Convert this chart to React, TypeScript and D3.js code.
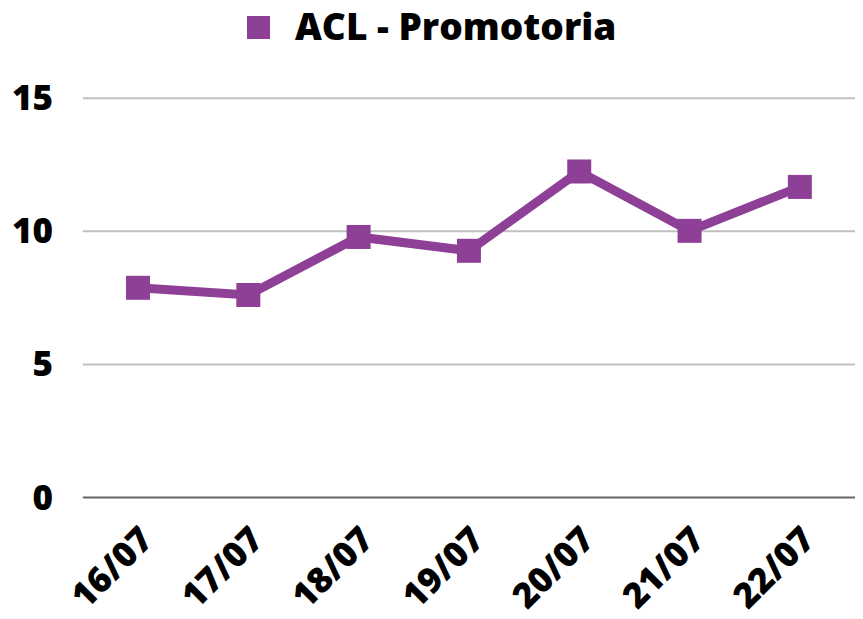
import React from "react";
import * as d3 from "d3";

const categories = ["16/07", "17/07", "18/07", "19/07", "20/07", "21/07", "22/07"];
const values = [7.88, 7.61, 9.79, 9.27, 12.25, 10.02, 11.67];
const yTicks = [0, 5, 10, 15];
const seriesName = "ACL - Promotoria";

const W = 863;
const H = 619;
const COLOR = "#8e3f96";
const FONT = "'Open Sans', sans-serif";

export default function App() {
  const x = d3.scaleBand<string>().domain(categories).range([82.85, 855]).padding(0);
  const y = d3.scaleLinear().domain([0, 15]).range([497.5, 98.3]);
  const cx = (c: string) => (x(c) as number) + x.bandwidth() / 2;
  const line = d3
    .line<number>()
    .x((_, i) => cx(categories[i]))
    .y((d) => y(d));
  const ms = 24;
  return (
    <div style={{ position: "fixed", left: 0, top: 0 }}>
      <svg width={W} height={H} style={{ display: "block", background: "#fff" }}>
        <rect width={W} height={H} fill="#fff" />
        {yTicks.map((t) => (
          <g key={t}>
            <line
              x1={82.85}
              x2={855}
              y1={y(t)}
              y2={y(t)}
              stroke={t === 0 ? "#666666" : "#c0c0c0"}
              strokeWidth={2}
            />
            <text
              x={53}
              y={y(t) + 12}
              textAnchor="end"
              fontFamily={FONT}
              fontWeight={800}
              fontSize={35}
              fill="#000"
            >
              {t}
            </text>
          </g>
        ))}
        {categories.map((c) => (
          <text
            key={c}
            transform={`translate(${cx(c) + 17},${y(0) + 44}) rotate(-45)`}
            textAnchor="end"
            fontFamily={FONT}
            fontWeight={800}
            fontSize={35}
            fill="#000"
          >
            {c}
          </text>
        ))}
        <path d={line(values) || ""} fill="none" stroke={COLOR} strokeWidth={9} strokeLinejoin="miter" />
        {values.map((v, i) => (
          <rect
            key={i}
            x={cx(categories[i]) - ms / 2}
            y={y(v) - ms / 2}
            width={ms}
            height={ms}
            fill={COLOR}
          />
        ))}
        <rect x={247} y={16} width={23} height={23} fill={COLOR} />
        <text x={295} y={40} fontFamily={FONT} fontWeight={800} fontSize={37} fill="#000">
          {seriesName}
        </text>
      </svg>
    </div>
  );
}
